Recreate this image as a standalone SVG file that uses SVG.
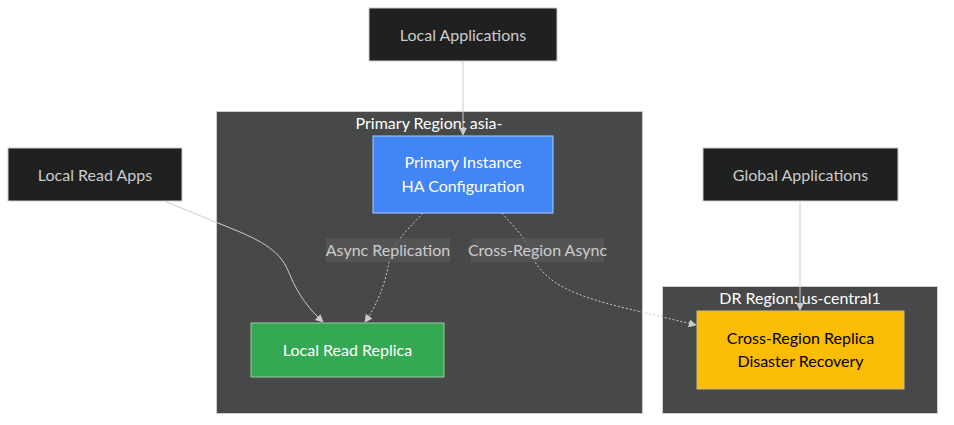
<svg xmlns="http://www.w3.org/2000/svg" width="954" height="425" viewBox="0 0 954 425">
<style>
text{font-family:"Lato","Liberation Sans",sans-serif;font-size:16px;text-anchor:middle;dominant-baseline:central}
.region{fill:#474949;stroke:#cccccc;stroke-width:1}
.rt{fill:#ffffff}
.dark{fill:#1f2020;stroke:#cccccc;stroke-width:1}
.dt{fill:#cccccc}
.edge{fill:none;stroke:#cccccc;stroke-width:1}
.dot{stroke-dasharray:2,2}
.lblbg{fill:#585858;opacity:0.8}
.lt{fill:#cccccc}
</style>
<defs>
<marker id="arr" viewBox="0 0 10 10" refX="9" refY="5" markerWidth="8" markerHeight="8" orient="auto" markerUnits="userSpaceOnUse">
<path d="M0,0 L10,5 L0,10 z" fill="#cccccc"/>
</marker>
</defs>
<g id="region-primary">
<rect class="region" x="216.5" y="111.5" width="426" height="302"/>
<text class="rt" x="429" y="122">Primary Region: asia-</text>
</g>
<g id="region-dr">
<rect class="region" x="662.5" y="286.5" width="275" height="127"/>
<text class="rt" x="800" y="297">DR Region: us-central1</text>
</g>
<g id="connectors">
<path class="edge" d="M463,61 L463,135" marker-end="url(#arr)"/>
<path class="edge" d="M800,201 L800,310" marker-end="url(#arr)"/>
<path class="edge" d="M165.7,201.7 L240,232 C275,247 283,258 290,275 C298,295 310,310 323,322" marker-end="url(#arr)"/>
<path class="edge dot" d="M423,213 C405,232 392,245 389,262 C385,285 377,305 365,322" marker-end="url(#arr)"/>
<path class="edge dot" d="M502,213 C515,228 528,240 535,262 C548,282 570,295 625,308 L696,325" marker-end="url(#arr)"/>
</g>
<g id="label-async">
<rect class="lblbg" x="326" y="238" width="124" height="24"/>
<text class="lt" x="388" y="249">Async Replication</text>
</g>
<g id="label-cross">
<rect class="lblbg" x="471" y="238" width="133" height="24"/>
<text class="lt" x="537.5" y="249">Cross-Region Async</text>
</g>
<g id="node-local-apps">
<rect class="dark" x="369" y="8" width="188" height="53"/>
<text class="dt" x="463" y="34">Local Applications</text>
</g>
<g id="node-local-read-apps">
<rect class="dark" x="8" y="148" width="174" height="53"/>
<text class="dt" x="95" y="174">Local Read Apps</text>
</g>
<g id="node-global-apps">
<rect class="dark" x="703" y="148" width="195" height="53"/>
<text class="dt" x="800.5" y="174">Global Applications</text>
</g>
<g id="node-primary">
<rect x="373" y="136" width="180" height="77" fill="#4285f4" stroke="#aaccff" stroke-width="1"/>
<text x="463" y="161.5" fill="#ffffff">Primary Instance</text>
<text x="463" y="185.5" fill="#ffffff">HA Configuration</text>
</g>
<g id="node-local-replica">
<rect x="251" y="323" width="193" height="54" fill="#34a853" stroke="#99cc99" stroke-width="1"/>
<text x="347.5" y="349.5" fill="#ffffff">Local Read Replica</text>
</g>
<g id="node-dr-replica">
<rect x="697" y="311" width="207" height="78" fill="#fbbc04" stroke="#ccbb88" stroke-width="1"/>
<text x="800.5" y="337.5" fill="#000000">Cross-Region Replica</text>
<text x="800.5" y="360.5" fill="#000000">Disaster Recovery</text>
</g>
</svg>
